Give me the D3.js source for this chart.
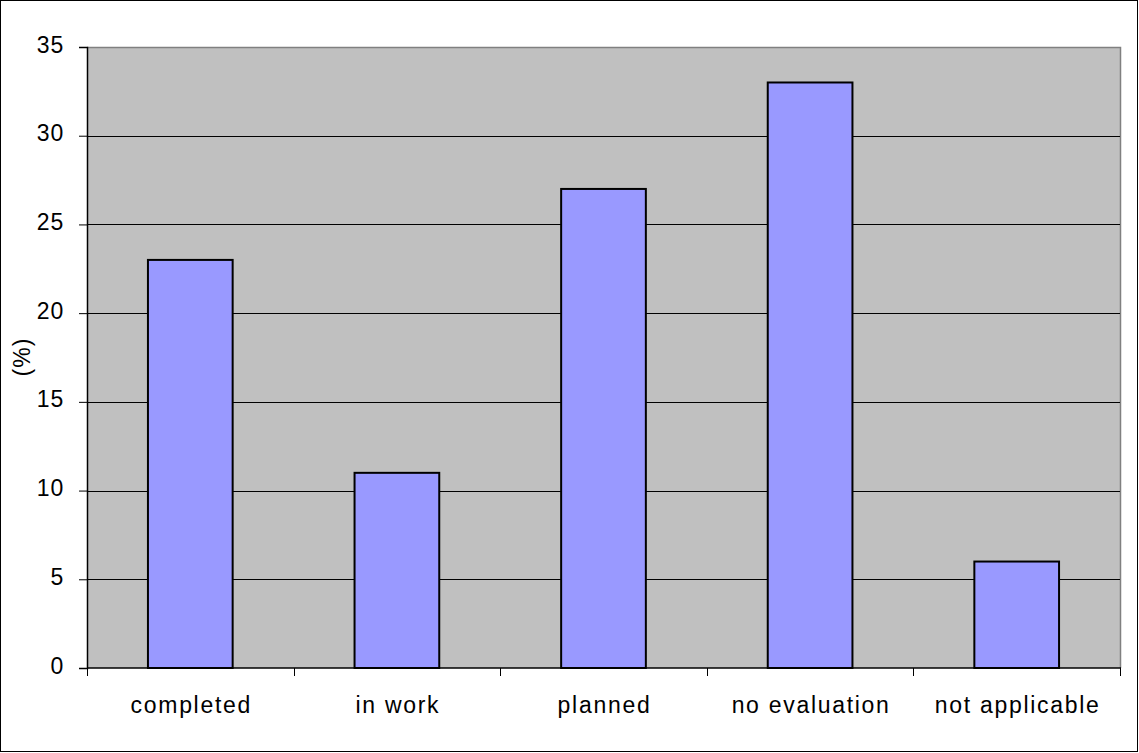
<!DOCTYPE html>
<html>
<head>
<meta charset="utf-8">
<script src="https://cdn.jsdelivr.net/npm/d3@7"></script>
<style>
  html, body { margin: 0; padding: 0; background: #fff; }
  svg { display: block; }
  text { font-family: "Liberation Sans", Arial, sans-serif; fill: #000; }
</style>
</head>
<body>
<svg id="chart" width="1139" height="753"></svg>
<script>
// Share of items by evaluation status (%)
const categories = ["completed", "in work", "planned", "no evaluation", "not applicable"];
const values = [23, 11, 27, 33, 6];
const yTicks = [0, 5, 10, 15, 20, 25, 30, 35];
const yLabel = "(%)";

const W = 1139, H = 753;
const plot = { left: 87, top: 47, right: 1120, bottom: 668 };
const FONT = "23px";

const svg = d3.select("#chart");

// outer frame
svg.append("rect")
  .attr("x", 0.5).attr("y", 0.5)
  .attr("width", W - 2).attr("height", H - 2)
  .attr("fill", "#fff").attr("stroke", "#000").attr("stroke-width", 1);

const x = d3.scaleBand().domain(categories).range([plot.left, plot.right]).padding(0);
const y = d3.scaleLinear().domain([0, 35]).range([plot.bottom, plot.top]);

// plot background
svg.append("rect")
  .attr("x", plot.left).attr("y", plot.top)
  .attr("width", plot.right - plot.left).attr("height", plot.bottom - plot.top)
  .attr("fill", "#C0C0C0");

// grey frame on top and right of plot area
svg.append("path")
  .attr("d", `M${plot.left},${plot.top + 0.5}H${plot.right + 0.5}V${plot.bottom}`)
  .attr("fill", "none").attr("stroke", "#808080").attr("stroke-width", 1.5);

// horizontal gridlines
svg.append("g")
  .selectAll("line")
  .data(yTicks.filter(d => d > 0 && d < 35))
  .join("line")
  .attr("x1", plot.left).attr("x2", plot.right)
  .attr("y1", d => Math.round(y(d)) + 0.5).attr("y2", d => Math.round(y(d)) + 0.5)
  .attr("stroke", "#000").attr("stroke-width", 1);

// bars
const barFrac = 0.41;
svg.append("g")
  .selectAll("rect")
  .data(values)
  .join("rect")
  .attr("x", (d, i) => x(categories[i]) + x.bandwidth() * (1 - barFrac) / 2)
  .attr("width", x.bandwidth() * barFrac)
  .attr("y", d => y(d))
  .attr("height", d => y(0) - y(d))
  .attr("fill", "#9999FF")
  .attr("stroke", "#000")
  .attr("stroke-width", 2);

// y axis
const yAxis = svg.append("g")
  .attr("transform", `translate(${plot.left},0)`)
  .call(d3.axisLeft(y).tickValues(yTicks).tickSize(8).tickPadding(6).tickFormat(d3.format("d")));
yAxis.select(".domain").attr("stroke", "#000").attr("stroke-width", 1.5);
yAxis.selectAll(".tick line").attr("stroke", "#000");
yAxis.selectAll("text")
  .style("font-size", FONT).style("letter-spacing", "0.8px")
  .attr("fill", "#000")
  .attr("x", -23).attr("dy", "0.22em");

// x axis: ticks at category boundaries
const xg = svg.append("g").attr("transform", `translate(0,${plot.bottom})`);
xg.append("line")
  .attr("x1", plot.left).attr("x2", plot.right + 1)
  .attr("stroke", "#000").attr("stroke-width", 1.5);
const bounds = categories.map(c => x(c)).concat([x(categories[categories.length - 1]) + x.bandwidth()]);
xg.selectAll("line.tk")
  .data(bounds)
  .join("line").attr("class", "tk")
  .attr("x1", d => Math.round(d) + 0.5).attr("x2", d => Math.round(d) + 0.5)
  .attr("y1", 0).attr("y2", 8)
  .attr("stroke", "#000");
xg.selectAll("text")
  .data(categories)
  .join("text")
  .attr("x", d => x(d) + x.bandwidth() / 2 + 1)
  .attr("y", 45)
  .attr("text-anchor", "middle")
  .style("font-size", FONT)
  .style("letter-spacing", "1.7px")
  .text(d => d);

// y-axis title
svg.append("text")
  .attr("transform", `translate(30,357) rotate(-90)`)
  .attr("text-anchor", "middle")
  .style("font-size", FONT)
  .style("letter-spacing", "1px")
  .text(yLabel);
</script>
</body>
</html>
